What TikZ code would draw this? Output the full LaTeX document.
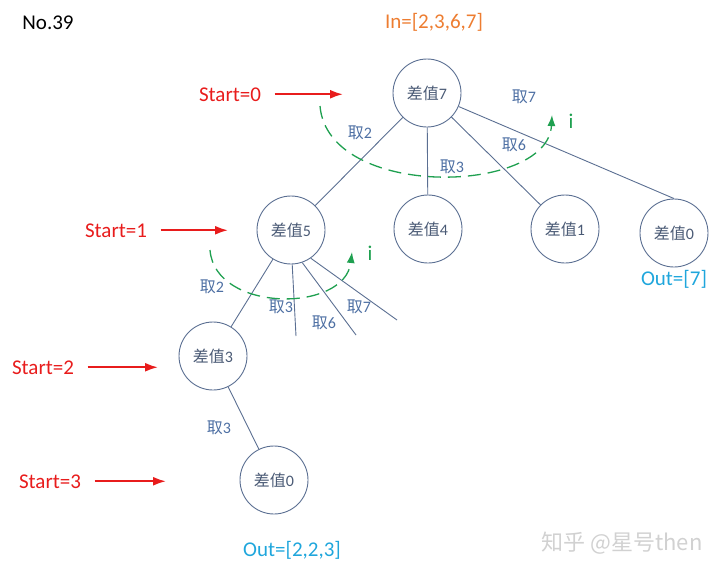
\documentclass[tikz,border=0pt]{standalone}
\usepackage{fontspec}
\setmainfont{Carlito}
\newfontfamily\cjk{Noto Sans CJK SC}
\usetikzlibrary{arrows,arrows.meta}

\definecolor{nodeline}{HTML}{5B6F92}
\definecolor{nodetext}{HTML}{4A5A75}
\definecolor{takeblue}{HTML}{4D6FA3}
\definecolor{startred}{HTML}{E81C1C}
\definecolor{loopgreen}{HTML}{1FA050}
\definecolor{inorange}{HTML}{ED7D31}
\definecolor{outcyan}{HTML}{1FA6DC}

\begin{document}
\begin{tikzpicture}[x=1pt,y=-1pt,
  val node/.style={circle,draw=nodeline,line width=0.9pt,minimum size=68pt,inner sep=0pt,
    text=nodetext,font=\fontsize{16}{16}\selectfont},
  take label/.style={text=takeblue,font=\fontsize{16}{16}\selectfont},
  big text/.style={anchor=base,font=\fontsize{21}{21}\selectfont},
  start arrow/.style={draw=startred,line width=2pt,shorten <=10pt,-{Latex[length=13pt,width=9pt]}},
  loop arc/.style={draw=loopgreen,line width=1.3pt,dash pattern=on 13pt off 7pt,-{Latex[length=11pt,width=8pt]}}]

  \useasboundingbox (0,0) rectangle (720,573);

  % tree nodes
  \node[val node] (d7) at (427,93) {{\cjk 差值}7};
  \node[val node] (d5) at (291,230) {{\cjk 差值}5};
  \node[val node] (d4) at (428,229) {{\cjk 差值}4};
  \node[val node] (d1) at (565,229) {{\cjk 差值}1};
  \node[val node] (d0r) at (674,233) {{\cjk 差值}0};
  \node[val node] (d3) at (213,356) {{\cjk 差值}3};
  \node[val node] (d0b) at (274,480) {{\cjk 差值}0};

  % open branches below 差值5
  \coordinate (b3) at (296,336);
  \coordinate (b6) at (356,335);
  \coordinate (b7) at (397,320);

  \path[draw=nodeline,line width=0.9pt]
    (d7) edge (d5)
    (d7) edge (d4)
    (d7) edge (d1)
    (d7) edge (d0r.north)
    (d5) edge (d3)
    (d5.-88) edge (b3)
    (d5.-71) edge (b6)
    (d5.-55) edge (b7)
    (d3) edge (d0b)
    ;

  % branch labels
  \node[take label] (t72) at (360,133) {{\cjk 取}2};
  \node[take label] (t73) at (452,167) {{\cjk 取}3};
  \node[take label] (t76) at (514,145) {{\cjk 取}6};
  \node[take label] (t77) at (524,97) {{\cjk 取}7};
  \node[take label] (t52) at (212,287) {{\cjk 取}2};
  \node[take label] (t53) at (281,307) {{\cjk 取}3};
  \node[take label] (t56) at (324,323) {{\cjk 取}6};
  \node[take label] (t57) at (359,307) {{\cjk 取}7};
  \node[take label] (t33) at (219,428) {{\cjk 取}3};

  % start markers
  \node[big text,text=startred] (s0) at (230,101) {Start=0};
  \node[big text,text=startred] (s1) at (116,237) {Start=1};
  \node[big text,text=startred] (s2) at (43,374) {Start=2};
  \node[big text,text=startred] (s3) at (50,488) {Start=3};
  \coordinate (a0) at (343,94);
  \coordinate (a1) at (228,230);
  \coordinate (a2) at (158,367);
  \coordinate (a3) at (166,480);
  \draw[start arrow] (s0.east) -- (s0.east -| a0);
  \draw[start arrow] (s1.east) -- (s1.east -| a1);
  \draw[start arrow] (s2.east) -- (s2.east -| a2);
  \draw[start arrow] (s3.east) -- (s3.east -| a3);

  % loop index arcs
  \draw[loop arc] (320,106) .. controls (328,200) and (548,195) .. (552,115);
  \node[big text,text=loopgreen] (i0) at (571,128) {i};
  \draw[loop arc] (210,250) .. controls (215,313) and (345,313) .. (352,252);
  \node[big text,text=loopgreen] (i1) at (370,260) {i};

  % titles and results
  \node[big text] (title) at (48,29) {No.39};
  \node[big text,text=inorange] (in) at (434,28) {In=[2,3,6,7]};
  \node[big text,text=outcyan] (out1) at (674,285) {Out=[7]};
  \node[big text,text=outcyan] (out2) at (292,556) {Out=[2,2,3]};

  \node[text=black!18,font=\cjk\fontsize{22}{22}\selectfont] (mark) at (622,543) {知乎 @星号then};
\end{tikzpicture}
\end{document}
